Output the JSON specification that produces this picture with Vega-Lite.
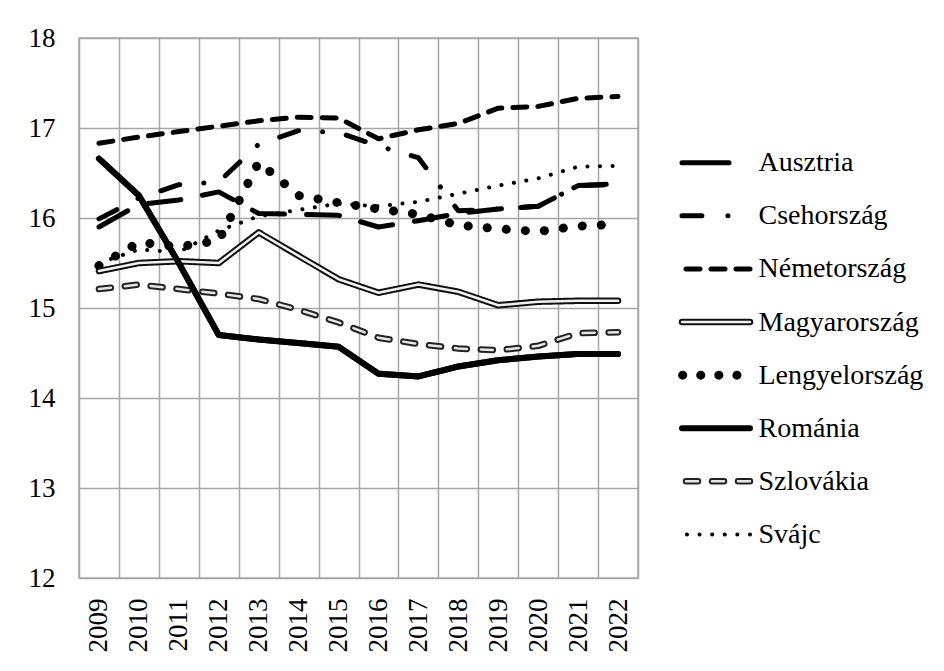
{
  "$schema": "https://vega.github.io/schema/vega-lite/v6.json",
  "padding": {"left": 27, "top": 23, "right": 5, "bottom": 5},
  "background": "white",
  "spacing": 44,
  "bounds": "flush",
  "config": {"font": "Liberation Serif", "view": {"stroke": "#a6a6a6", "strokeWidth": 1.5}},
  "datasets": {
    "main": [
      {"country": "Ausztria", "year": "2009", "value": 15.9}, {"country": "Ausztria", "year": "2010", "value": 16.15}, {"country": "Ausztria", "year": "2011", "value": 16.2}, {"country": "Ausztria", "year": "2012", "value": 16.29}, {"country": "Ausztria", "year": "2013", "value": 16.05}, {"country": "Ausztria", "year": "2014", "value": 16.04}, {"country": "Ausztria", "year": "2015", "value": 16.03}, {"country": "Ausztria", "year": "2016", "value": 15.9}, {"country": "Ausztria", "year": "2017", "value": 15.97}, {"country": "Ausztria", "year": "2018", "value": 16.05}, {"country": "Ausztria", "year": "2019", "value": 16.1}, {"country": "Ausztria", "year": "2020", "value": 16.13}, {"country": "Ausztria", "year": "2021", "value": 16.36}, {"country": "Ausztria", "year": "2022", "value": 16.38},
      {"country": "Csehország", "year": "2009", "value": 15.99}, {"country": "Csehország", "year": "2010", "value": 16.22}, {"country": "Csehország", "year": "2011", "value": 16.37}, {"country": "Csehország", "year": "2012", "value": 16.4}, {"country": "Csehország", "year": "2013", "value": 16.82}, {"country": "Csehország", "year": "2014", "value": 16.97}, {"country": "Csehország", "year": "2015", "value": 16.95}, {"country": "Csehország", "year": "2016", "value": 16.8}, {"country": "Csehország", "year": "2017", "value": 16.67}, {"country": "Csehország", "year": "2018", "value": 16.08}, {"country": "Csehország", "year": "2019", "value": 16.1}, {"country": "Csehország", "year": "2020", "value": 16.13}, {"country": "Csehország", "year": "2021", "value": 16.36}, {"country": "Csehország", "year": "2022", "value": 16.37},
      {"country": "Németország", "year": "2009", "value": 16.83}, {"country": "Németország", "year": "2010", "value": 16.9}, {"country": "Németország", "year": "2011", "value": 16.96}, {"country": "Németország", "year": "2012", "value": 17.02}, {"country": "Németország", "year": "2013", "value": 17.08}, {"country": "Németország", "year": "2014", "value": 17.12}, {"country": "Németország", "year": "2015", "value": 17.11}, {"country": "Németország", "year": "2016", "value": 16.88}, {"country": "Németország", "year": "2017", "value": 16.98}, {"country": "Németország", "year": "2018", "value": 17.05}, {"country": "Németország", "year": "2019", "value": 17.22}, {"country": "Németország", "year": "2020", "value": 17.24}, {"country": "Németország", "year": "2021", "value": 17.33}, {"country": "Németország", "year": "2022", "value": 17.35},
      {"country": "Magyarország", "year": "2009", "value": 15.41}, {"country": "Magyarország", "year": "2010", "value": 15.5}, {"country": "Magyarország", "year": "2011", "value": 15.52}, {"country": "Magyarország", "year": "2012", "value": 15.5}, {"country": "Magyarország", "year": "2013", "value": 15.84}, {"country": "Magyarország", "year": "2014", "value": 15.58}, {"country": "Magyarország", "year": "2015", "value": 15.32}, {"country": "Magyarország", "year": "2016", "value": 15.17}, {"country": "Magyarország", "year": "2017", "value": 15.26}, {"country": "Magyarország", "year": "2018", "value": 15.18}, {"country": "Magyarország", "year": "2019", "value": 15.03}, {"country": "Magyarország", "year": "2020", "value": 15.07}, {"country": "Magyarország", "year": "2021", "value": 15.08}, {"country": "Magyarország", "year": "2022", "value": 15.08},
      {"country": "Lengyelország", "year": "2009", "value": 15.47}, {"country": "Lengyelország", "year": "2010", "value": 15.73}, {"country": "Lengyelország", "year": "2011", "value": 15.68}, {"country": "Lengyelország", "year": "2012", "value": 15.75}, {"country": "Lengyelország", "year": "2013", "value": 16.62}, {"country": "Lengyelország", "year": "2014", "value": 16.25}, {"country": "Lengyelország", "year": "2015", "value": 16.17}, {"country": "Lengyelország", "year": "2016", "value": 16.1}, {"country": "Lengyelország", "year": "2017", "value": 16.04}, {"country": "Lengyelország", "year": "2018", "value": 15.92}, {"country": "Lengyelország", "year": "2019", "value": 15.88}, {"country": "Lengyelország", "year": "2020", "value": 15.85}, {"country": "Lengyelország", "year": "2021", "value": 15.91}, {"country": "Lengyelország", "year": "2022", "value": 15.93},
      {"country": "Szlovákia", "year": "2009", "value": 15.21}, {"country": "Szlovákia", "year": "2010", "value": 15.26}, {"country": "Szlovákia", "year": "2011", "value": 15.21}, {"country": "Szlovákia", "year": "2012", "value": 15.16}, {"country": "Szlovákia", "year": "2013", "value": 15.1}, {"country": "Szlovákia", "year": "2014", "value": 14.98}, {"country": "Szlovákia", "year": "2015", "value": 14.84}, {"country": "Szlovákia", "year": "2016", "value": 14.67}, {"country": "Szlovákia", "year": "2017", "value": 14.6}, {"country": "Szlovákia", "year": "2018", "value": 14.55}, {"country": "Szlovákia", "year": "2019", "value": 14.53}, {"country": "Szlovákia", "year": "2020", "value": 14.58}, {"country": "Szlovákia", "year": "2021", "value": 14.72}, {"country": "Szlovákia", "year": "2022", "value": 14.73},
      {"country": "Svájc", "year": "2009", "value": 15.5}, {"country": "Svájc", "year": "2010", "value": 15.65}, {"country": "Svájc", "year": "2011", "value": 15.62}, {"country": "Svájc", "year": "2012", "value": 15.86}, {"country": "Svájc", "year": "2013", "value": 16.02}, {"country": "Svájc", "year": "2014", "value": 16.09}, {"country": "Svájc", "year": "2015", "value": 16.16}, {"country": "Svájc", "year": "2016", "value": 16.13}, {"country": "Svájc", "year": "2017", "value": 16.18}, {"country": "Svájc", "year": "2018", "value": 16.27}, {"country": "Svájc", "year": "2019", "value": 16.36}, {"country": "Svájc", "year": "2020", "value": 16.44}, {"country": "Svájc", "year": "2021", "value": 16.57}, {"country": "Svájc", "year": "2022", "value": 16.58},
      {"country": "Románia", "year": "2009", "value": 16.66}, {"country": "Románia", "year": "2010", "value": 16.25}, {"country": "Románia", "year": "2011", "value": 15.5}, {"country": "Románia", "year": "2012", "value": 14.7}, {"country": "Románia", "year": "2013", "value": 14.65}, {"country": "Románia", "year": "2014", "value": 14.61}, {"country": "Románia", "year": "2015", "value": 14.57}, {"country": "Románia", "year": "2016", "value": 14.27}, {"country": "Románia", "year": "2017", "value": 14.24}, {"country": "Románia", "year": "2018", "value": 14.35}, {"country": "Románia", "year": "2019", "value": 14.42}, {"country": "Románia", "year": "2020", "value": 14.46}, {"country": "Románia", "year": "2021", "value": 14.49}, {"country": "Románia", "year": "2022", "value": 14.49}
    ],
    "legend": [
      {"country": "Ausztria"}, {"country": "Csehország"}, {"country": "Németország"}, {"country": "Magyarország"},
      {"country": "Lengyelország"}, {"country": "Románia"}, {"country": "Szlovákia"}, {"country": "Svájc"}
    ]
  },
  "hconcat": [
    {
      "width": 559,
      "height": 540,
      "data": {"name": "main"},
      "encoding": {
        "x": {
          "field": "year", "type": "ordinal", "bandPosition": 0.5,
          "scale": {"type": "band", "paddingInner": 0, "paddingOuter": 0},
          "axis": {"title": null, "labelAngle": -90, "labelFont": "Liberation Serif", "labelFontSize": 27, "labelColor": "black", "labelPadding": 20, "ticks": false, "tickBand": "extent", "grid": true, "gridColor": "#a6a6a6", "gridWidth": 1.5, "domain": false}
        },
        "y": {
          "field": "value", "type": "quantitative",
          "scale": {"domain": [12, 18], "nice": false, "zero": false},
          "axis": {"title": null, "values": [12, 13, 14, 15, 16, 17, 18], "labelFont": "Liberation Serif", "labelFontSize": 27, "labelColor": "black", "labelPadding": 24, "ticks": false, "domain": false, "grid": true, "gridColor": "#a6a6a6", "gridWidth": 1.5}
        }
      },
      "layer": [
        {
          "mark": {"type": "line", "strokeCap": "round", "strokeJoin": "round"},
          "encoding": {
            "detail": {"field": "country", "type": "nominal"},
            "color": {
              "field": "country", "type": "nominal", "legend": null,
              "scale": {"domain": ["Ausztria", "Csehország", "Németország", "Magyarország", "Lengyelország", "Szlovákia", "Svájc", "Románia"], "range": ["#000000", "#000000", "#000000", "#111111", "#000000", "#222222", "#000000", "#000000"]}
            },
            "strokeDash": {
              "field": "country", "type": "nominal", "legend": null,
              "scale": {"domain": ["Ausztria", "Csehország", "Németország", "Magyarország", "Lengyelország", "Szlovákia", "Svájc", "Románia"], "range": [[33, 22], [20, 24, 0.1, 24], [14, 11], [1, 0], [0.1, 19], [12, 14], [0.1, 12.5], [1, 0]]}
            },
            "strokeWidth": {
              "field": "country", "type": "nominal", "legend": null,
              "scale": {"type": "ordinal", "domain": ["Ausztria", "Csehország", "Németország", "Magyarország", "Lengyelország", "Szlovákia", "Svájc", "Románia"], "range": [5, 5, 5, 6.5, 9, 6.5, 4, 6]}
            }
          }
        },
        {
          "transform": [{"filter": "datum.country === 'Magyarország'"}],
          "mark": {"type": "line", "strokeCap": "round", "strokeJoin": "round", "color": "#f2f2f2", "strokeWidth": 2.5},
          "encoding": {}
        },
        {
          "transform": [{"filter": "datum.country === 'Szlovákia'"}],
          "mark": {"type": "line", "strokeCap": "round", "strokeJoin": "round", "color": "#e6e6e6", "strokeWidth": 2.5, "strokeDash": [12, 14]},
          "encoding": {}
        },
        {
          "transform": [{"filter": "datum.country === 'Románia'"}],
          "mark": {"type": "line", "strokeCap": "round", "strokeJoin": "round", "color": "#000000", "strokeWidth": 6},
          "encoding": {}
        }
      ]
    },
    {
      "width": 68,
      "height": 515,
      "view": {"stroke": null},
      "data": {"name": "legend"},
      "encoding": {
        "y": {
          "field": "country", "type": "nominal",
          "scale": {"type": "point", "domain": ["_1", "_2", "Ausztria", "Csehország", "Németország", "Magyarország", "Lengyelország", "Románia", "Szlovákia", "Svájc"], "padding": 0.35},
          "axis": {"title": null, "orient": "right", "labelExpr": "length(datum.value) < 3 ? '' : datum.value", "labelFont": "Liberation Serif", "labelFontSize": 28, "labelColor": "black", "labelPadding": 8, "labelLimit": 300, "ticks": false, "domain": false, "grid": false}
        }
      },
      "layer": [
        {
          "transform": [{"filter": "datum.country !== 'Ausztria' && datum.country !== 'Csehország' && datum.country !== 'Lengyelország'"}],
          "mark": {"type": "rule", "strokeCap": "round"},
          "encoding": {
            "color": {
              "field": "country", "type": "nominal", "legend": null,
              "scale": {"domain": ["Ausztria", "Csehország", "Németország", "Magyarország", "Lengyelország", "Románia", "Szlovákia", "Svájc"], "range": ["#000000", "#000000", "#000000", "#111111", "#000000", "#000000", "#222222", "#000000"]}
            },
            "strokeDash": {
              "field": "country", "type": "nominal", "legend": null,
              "scale": {"domain": ["Ausztria", "Csehország", "Németország", "Magyarország", "Lengyelország", "Románia", "Szlovákia", "Svájc"], "range": [[33, 22], [20, 24, 0.1, 24], [14, 11], [1, 0], [0.1, 19], [1, 0], [12, 14], [0.1, 12.5]]}
            },
            "strokeWidth": {
              "field": "country", "type": "nominal", "legend": null,
              "scale": {"type": "ordinal", "domain": ["Ausztria", "Csehország", "Németország", "Magyarország", "Lengyelország", "Románia", "Szlovákia", "Svájc"], "range": [5, 5, 5, 6.5, 9, 6, 6.5, 4]}
            }
          }
        },
        {
          "transform": [{"filter": "datum.country === 'Ausztria'"}],
          "mark": {"type": "rule", "strokeCap": "round", "color": "#000000", "strokeWidth": 5, "strokeDash": [47, 100], "strokeDashOffset": 126}
        },
        {
          "transform": [{"filter": "datum.country === 'Csehország'"}],
          "mark": {"type": "rule", "strokeCap": "round", "color": "#000000", "strokeWidth": 5, "strokeDash": [0.1, 26, 20, 100], "strokeDashOffset": 124.1}
        },
        {
          "transform": [{"filter": "datum.country === 'Lengyelország'"}],
          "mark": {"type": "rule", "strokeCap": "round", "color": "#000000", "strokeWidth": 9, "strokeDash": [0.1, 18], "strokeDashOffset": 5.1}
        },
        {
          "transform": [{"filter": "datum.country === 'Magyarország'"}],
          "mark": {"type": "rule", "strokeCap": "round", "color": "#f2f2f2", "strokeWidth": 2.5}
        },
        {
          "transform": [{"filter": "datum.country === 'Szlovákia'"}],
          "mark": {"type": "rule", "strokeCap": "round", "color": "#e6e6e6", "strokeWidth": 2.5, "strokeDash": [12, 14]}
        }
      ]
    }
  ]
}
